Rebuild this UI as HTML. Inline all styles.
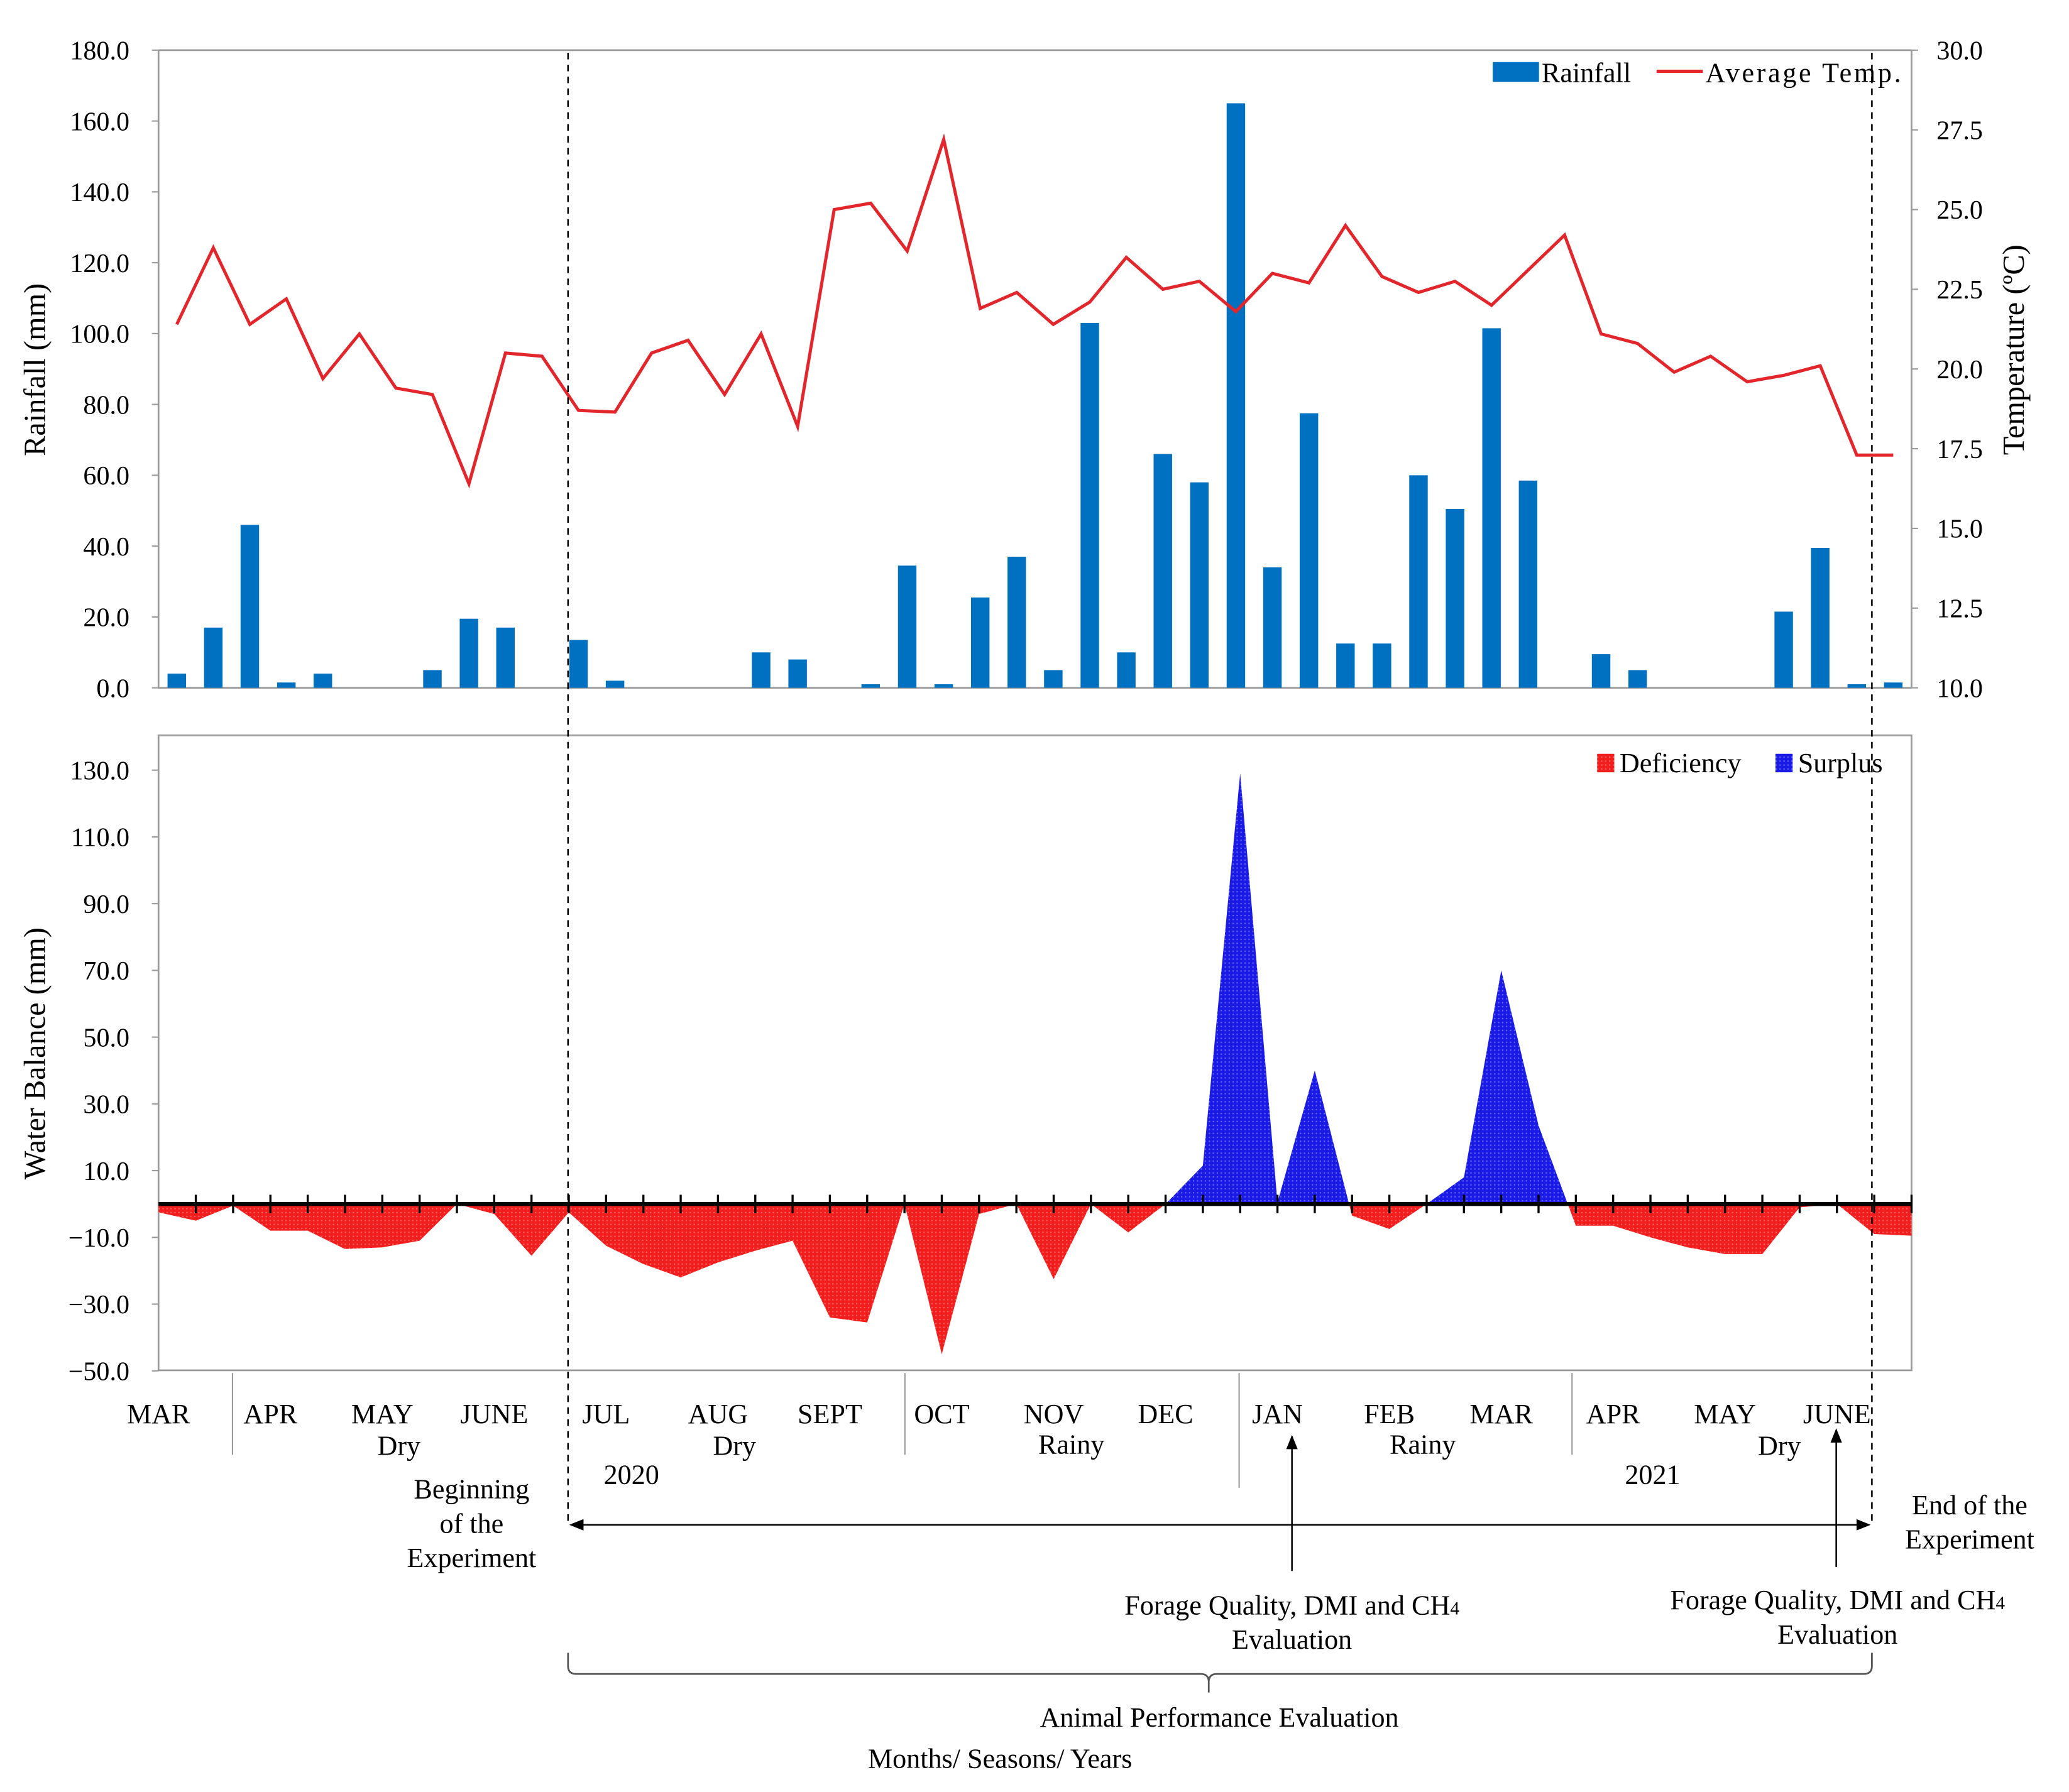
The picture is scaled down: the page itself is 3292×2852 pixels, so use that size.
<!DOCTYPE html>
<html><head><meta charset="utf-8"><style>
html,body{margin:0;padding:0;background:#fff;}
svg{display:block;font-family:"Liberation Serif",serif;}
</style></head><body>
<svg id="chart" width="3292" height="2852" viewBox="0 0 1566.2 1357.4" preserveAspectRatio="none" xmlns="http://www.w3.org/2000/svg">
<defs>
<pattern id="redDots" width="3" height="3" patternUnits="userSpaceOnUse"><rect width="3" height="3" fill="#f21d1d"/><rect width="1" height="1" fill="#ff6a6a"/></pattern>
<pattern id="blueDots" width="3" height="3" patternUnits="userSpaceOnUse"><rect width="3" height="3" fill="#1a1ae6"/><rect width="1" height="1" fill="#6a6aff"/></pattern>
<clipPath id="clipPos"><rect x="120" y="557" width="1327" height="355"/></clipPath>
<clipPath id="clipNeg"><rect x="120" y="912" width="1327" height="130"/></clipPath>
<marker id="arr" viewBox="0 0 10 10" refX="9" refY="5" markerWidth="9" markerHeight="9" orient="auto-start-reverse"><path d="M0,1 L10,5 L0,9 z" fill="#000"/></marker>
</defs>
<g id="topChart"></g>
<g id="botChart"></g>
<g id="ann"></g>
</svg>
<script>
const rainfall=[4,17,46,1.5,4,0,0,5,19.5,17,0,13.5,2,0,0,0,10,8,0,1,34.5,1,25.5,37,5,103,10,66,58,165,34,77.5,12.5,12.5,60,50.5,101.5,58.5,0,9.5,5,0,0,0,21.5,39.5,1,1.5];
const temperature=[21.4,23.8,21.4,22.2,19.7,21.1,19.4,19.2,16.4,20.5,20.4,18.7,18.65,20.5,20.9,19.2,21.1,18.2,25.0,25.2,23.7,27.2,21.9,22.4,21.4,22.1,23.5,22.5,22.75,21.8,23.0,22.7,24.5,22.9,22.4,22.75,22.0,23.1,24.2,21.1,20.8,19.9,20.4,19.6,19.8,20.1,17.3,17.3];
const waterBalance=[-2.5,-5,-0.5,-8,-8,-13.5,-13,-11,0,-3,-15.5,-2.5,-12.5,-18,-22,-17.5,-14,-11,-34,-35.5,0,-45,-3,0,-22.5,0,-8.5,0,11.5,129,0.5,40,-3.5,-7.5,0,8,70,23.5,-6.5,-6.5,-10,-13,-15,-15,-1,0,-9,-9.5];
const rainTicks=["0.0","20.0","40.0","60.0","80.0","100.0","120.0","140.0","160.0","180.0"];
const tempTicks=["10.0","12.5","15.0","17.5","20.0","22.5","25.0","27.5","30.0"];
const wbTicks=["-50.0","-30.0","-10.0","10.0","30.0","50.0","70.0","90.0","110.0","130.0"];
const months=["MAR","APR","MAY","JUNE","JUL","AUG","SEPT","OCT","NOV","DEC","JAN","FEB","MAR","APR","MAY","JUNE"];

const NS="http://www.w3.org/2000/svg";
function mk(parent,tag,attrs,text){const el=document.createElementNS(NS,tag);for(const k in attrs)el.setAttribute(k,attrs[k]);if(text!==undefined)el.textContent=text;parent.appendChild(el);return el;}
const L=120,R=1447;
const yRain=v=>521-(v/180)*483;
const yTemp=v=>521-((v-10)/20)*483;
const bw=(R-L)/rainfall.length;
const xBar=i=>L+bw*(i+0.5);
const topG=document.getElementById('topChart');
let e;
e=mk(topG,'path',{d:`M${L},38 H${R} M${L},38 V521 H${R} M${R},38 V521`,stroke:'#9a9a9a','stroke-width':1.3,fill:'none'});


rainTicks.forEach(t=>{const y=yRain(parseFloat(t));
 mk(topG,'line',{x1:L-5,x2:L,y1:y,y2:y,stroke:'#9a9a9a'});
 e=mk(topG,'text',{x:98,y:y+7,'text-anchor':'end','font-size':20},t);
 
 });
tempTicks.forEach(t=>{const y=yTemp(parseFloat(t));
 mk(topG,'line',{x1:R,x2:R+5,y1:y,y2:y,stroke:'#9a9a9a'});
 e=mk(topG,'text',{x:1466,y:y+7,'font-size':20},t);
 
 });
rainfall.forEach((v,i)=>{if(v<=0)return;
 e=mk(topG,'rect',{x:xBar(i)-7,y:yRain(v),width:14,height:521-yRain(v),fill:'#0070c0'});
 
 });
e=mk(topG,'polyline',{points:temperature.map((v,i)=>xBar(i)+','+yTemp(v)).join(' '),fill:'none',stroke:'#e3262b','stroke-width':2.4});


e=mk(topG,'text',{x:34,y:280,'font-size':23,'text-anchor':'middle',transform:'rotate(-90 34 280)'},'Rainfall (mm)');


e=mk(topG,'text',{x:1532,y:265,'font-size':23,'text-anchor':'middle',transform:'rotate(-90 1532 265)'},'Temperature (ºC)');


e=mk(topG,'rect',{x:1130,y:47,width:35,height:15,fill:'#0070c0'});


e=mk(topG,'text',{x:1167,y:62,'font-size':21},'Rainfall');


e=mk(topG,'line',{x1:1254,x2:1289,y1:54,y2:54,stroke:'#e3262b','stroke-width':2.4});


e=mk(topG,'text',{x:1291,y:62,'font-size':21,textLength:148},'Average Temp.');



const botG=document.getElementById('botChart');
const yWB=v=>912-v*2.528;
const step=(R-L)/(waterBalance.length-1);
const xWB=i=>L+step*i;
e=mk(botG,'rect',{x:L,y:557,width:R-L,height:481,fill:'none',stroke:'#9a9a9a','stroke-width':1.3});


wbTicks.forEach(t=>{const y=yWB(parseFloat(t));
 mk(botG,'line',{x1:L-5,x2:L,y1:y,y2:y,stroke:'#9a9a9a'});
 e=mk(botG,'text',{x:98,y:y+7,'text-anchor':'end','font-size':20},t.replace('-','−'));
 
 });
const pts=waterBalance.map((v,i)=>xWB(i)+','+yWB(v)).join(' ');
const poly=`${xWB(0)},${yWB(0)} ${pts} ${xWB(waterBalance.length-1)},${yWB(0)}`;
e=mk(botG,'polygon',{points:poly,fill:'url(#redDots)','clip-path':'url(#clipNeg)'});


e=mk(botG,'polygon',{points:poly,fill:'url(#blueDots)','clip-path':'url(#clipPos)'});


e=mk(botG,'line',{x1:L,x2:R,y1:yWB(0),y2:yWB(0),stroke:'#000','stroke-width':3});


for(let i=1;i<waterBalance.length;i++){mk(botG,'line',{x1:xWB(i),x2:xWB(i),y1:yWB(0)-7,y2:yWB(0)+7,stroke:'#000','stroke-width':1.6});}
e=mk(botG,'text',{x:34,y:798,'font-size':23,'text-anchor':'middle',transform:'rotate(-90 34 798)'},'Water Balance (mm)');


e=mk(botG,'rect',{x:1209,y:571,width:13,height:14,fill:'url(#redDots)'});


e=mk(botG,'text',{x:1226,y:585,'font-size':21},'Deficiency');


e=mk(botG,'rect',{x:1344,y:571,width:13,height:14,fill:'url(#blueDots)'});


e=mk(botG,'text',{x:1361,y:585,'font-size':21},'Surplus');



const ann=document.getElementById('ann');
months.forEach((m,i)=>{const x=L+step*(3*i);
 e=mk(ann,'text',{x:x,y:1078,'font-size':21,'text-anchor':'middle'},m);
 
 });
[[176,1102],[685,1102],[938,1127],[1190,1102]].forEach(d=>{mk(ann,'line',{x1:d[0],x2:d[0],y1:1040,y2:d[1],stroke:'#9a9a9a'});});
[["Dry",302,1102],["Dry",556,1102],["Rainy",811,1101],["Rainy",1077,1101],["Dry",1347,1102],["2020",478,1124],["2021",1251,1124],
 ["Beginning",357,1135],["of the",357,1161],["Experiment",357,1187],["End of the",1491,1147],["Experiment",1491,1173],
 ["Evaluation",978,1249],["Evaluation",1391,1245],["Animal Performance Evaluation",923,1308],["Months/ Seasons/ Years",757,1339]].forEach(d=>{
 e=mk(ann,'text',{x:d[1],y:d[2],'font-size':21,'text-anchor':'middle'},d[0]);
 
 });
[[978,1223],[1391,1219]].forEach(d=>{
 e=mk(ann,'text',{x:d[0],y:d[1],'font-size':21,'text-anchor':'middle'},'Forage Quality, DMI and CH');
 
 
 mk(e,'tspan',{'font-size':14},'4');});
[430,1417].forEach(x=>{e=mk(ann,'line',{x1:x,x2:x,y1:40,y2:1155,stroke:'#000','stroke-width':1.2,'stroke-dasharray':'5,4'});
 
 });
e=mk(ann,'line',{x1:432,x2:1415,y1:1155,y2:1155,stroke:'#000','stroke-width':1.2,'marker-start':'url(#arr)','marker-end':'url(#arr)'});


[[978,1190,1088],[1390,1187,1083]].forEach(d=>{e=mk(ann,'line',{x1:d[0],x2:d[0],y1:d[1],y2:d[2],stroke:'#000','stroke-width':1.2,'marker-end':'url(#arr)'});
 
 });
e=mk(ann,'path',{d:'M430,1252 V1262 Q430,1268 436,1268 H909 Q915,1268 915,1274 V1282 M915,1274 Q915,1268 921,1268 H1411 Q1417,1268 1417,1262 V1252',fill:'none',stroke:'#555','stroke-width':1.3});


</script>
</body></html>
